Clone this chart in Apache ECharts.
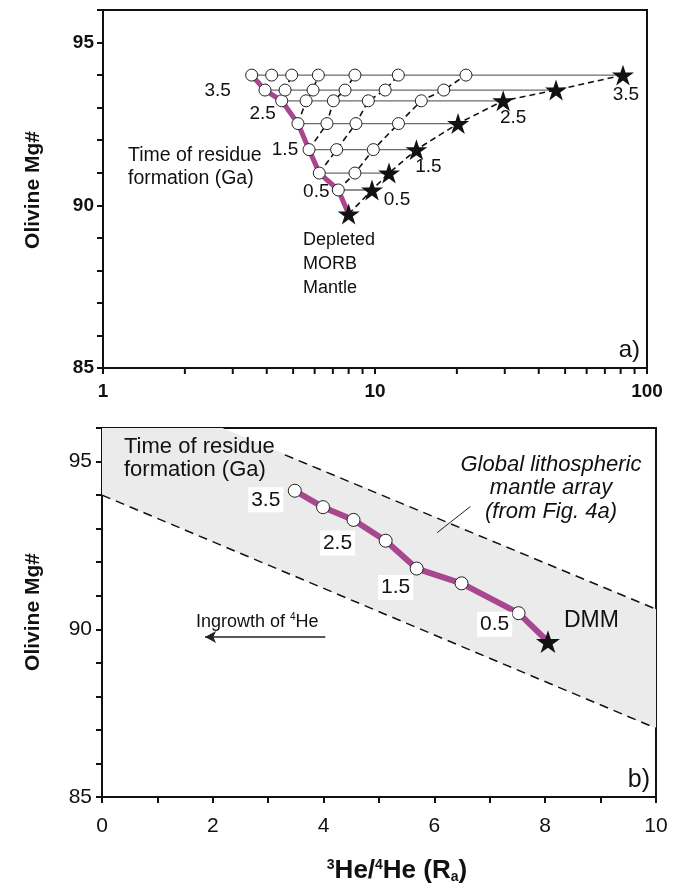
<!DOCTYPE html>
<html>
<head>
<meta charset="utf-8">
<script src="https://cdn.jsdelivr.net/npm/echarts@6/dist/echarts.min.js"></script>
<style>
  html, body { margin: 0; padding: 0; background: #fff; }
  #chart { width: 688px; height: 888px; }
</style>
</head>
<body>
<div id="chart"></div>
<script>
// ---- panel a: residues of different age, 3He/4He (log) vs Mg# ----
const agesGa = [0.5, 1.0, 1.5, 2.0, 2.5, 3.0, 3.5];
const rowMgA = [90.47, 90.99, 91.71, 92.51, 93.21, 93.54, 94.0];
// circles in each row, left -> right (Ra)
const rowCirclesA = [
  [7.33],
  [6.24, 8.44],
  [5.72, 7.23, 9.86],
  [5.21, 6.66, 8.51, 12.2],
  [4.54, 5.58, 7.03, 9.45, 14.8],
  [3.94, 4.67, 5.92, 7.76, 10.9, 17.9],
  [3.52, 4.17, 4.94, 6.19, 8.44, 12.18, 21.6]
];
const rowStarsA = [9.75, 11.26, 14.2, 20.2, 29.6, 46.3, 81.6];
const dmmA = [8.0, 89.73];
const logMinorTicks = [2, 3, 4, 5, 6, 7, 8, 9, 20, 30, 40, 50, 60, 70, 80, 90];

// ---- panel b: linear 3He/4He vs Mg# ----
const agesB = [3.5, 3.0, 2.5, 2.0, 1.5, 1.0, 0.5];
const heB = [3.48, 3.99, 4.54, 5.12, 5.68, 6.49, 7.52];
const mgB = [94.13, 93.64, 93.26, 92.64, 91.81, 91.37, 90.48];
const dmmB = [8.05, 89.63];
const arrayUpper = [[0, 97.5], [10, 90.6]];
const arrayLower = [[0, 94.0], [10, 87.05]];
const upperDashed = [[3.3, 95.2], [10, 90.6]];
const leader = [[6.05, 92.88], [6.65, 93.66]];
const ingrowthArrow = [[4.03, 89.77], [1.86, 89.77]];

const labelledAges = [0.5, 1.5, 2.5, 3.5];

const FONT = "'Liberation Sans', Arial, sans-serif";
const PURPLE = '#a8468f';
const STAR = 'path://M0,-100 L22.45,-30.9 L95.1,-30.9 L36.3,11.8 L58.8,80.9 L0,38.2 L-58.8,80.9 L-36.3,11.8 L-95.1,-30.9 L-22.45,-30.9 Z';

// label offsets (px), keyed by age
const offCircleA = { 0.5: [-22, 2], 1.5: [-24, 0], 2.5: [-19, 13], 3.5: [-34, 16] };
const offStarA = { 0.5: [25, 10], 1.5: [12, 17], 2.5: [10, 17], 3.5: [3, 20] };
const offB = { 0.5: [-24, 11], 1.5: [-21, 19], 2.5: [-16, 23], 3.5: [-29, 9] };

const chart = echarts.init(document.getElementById('chart'), null, { renderer: 'canvas' });

const series = [];

// horizontal gray lines (panel a)
agesGa.forEach((age, i) => {
  series.push({
    type: 'line', xAxisIndex: 0, yAxisIndex: 0, symbol: 'none', silent: true, z: 2,
    lineStyle: { color: '#6b6b6b', width: 1.3 },
    data: [[rowCirclesA[i][0], rowMgA[i]], [rowStarsA[i], rowMgA[i]]]
  });
});

// dashed isochrons: k = 0 -> stars from DMM, k >= 1 -> k-th circle from the right
for (let k = 0; k < 7; k++) {
  const pts = [];
  if (k === 0) {
    pts.push(dmmA);
    agesGa.forEach((a, i) => pts.push([rowStarsA[i], rowMgA[i]]));
  } else {
    for (let r = k - 1; r < agesGa.length; r++) {
      const row = rowCirclesA[r];
      pts.push([row[row.length - k], rowMgA[r]]);
    }
  }
  if (pts.length < 2) continue;
  series.push({
    type: 'line', xAxisIndex: 0, yAxisIndex: 0, symbol: 'none', silent: true, z: 3,
    lineStyle: { color: '#111', width: 1.6, type: [6, 4] },
    data: pts
  });
}

// purple residue path (panel a)
series.push({
  type: 'line', xAxisIndex: 0, yAxisIndex: 0, symbol: 'none', z: 4,
  lineStyle: { color: PURPLE, width: 5 },
  data: [dmmA].concat(agesGa.map((a, i) => [rowCirclesA[i][0], rowMgA[i]]))
});

// circles (panel a)
const circA = [];
rowCirclesA.forEach((row, i) => row.forEach(v => circA.push([v, rowMgA[i]])));
series.push({
  type: 'scatter', xAxisIndex: 0, yAxisIndex: 0, z: 6, symbol: 'circle', symbolSize: 12,
  itemStyle: { color: '#fff', borderColor: '#222', borderWidth: 1, opacity: 1 },
  data: circA
});

// stars (panel a)
series.push({
  type: 'scatter', xAxisIndex: 0, yAxisIndex: 0, z: 6, symbol: STAR, symbolSize: 22, symbolKeepAspect: true,
  itemStyle: { color: '#111', opacity: 1 },
  data: agesGa.map((a, i) => [rowStarsA[i], rowMgA[i]]).concat([dmmA])
});

// age labels (panel a)
const ageLabelStyle = { show: true, position: 'inside', fontSize: 19, color: '#111', fontFamily: FONT, formatter: p => p.data.age.toFixed(1) };
series.push({
  type: 'scatter', xAxisIndex: 0, yAxisIndex: 0, z: 7, symbolSize: 0, silent: true,
  itemStyle: { opacity: 1 },
  label: ageLabelStyle,
  data: agesGa.map((a, i) => ({ value: [rowCirclesA[i][0], rowMgA[i]], age: a }))
    .filter(d => labelledAges.includes(d.age))
    .map(d => Object.assign(d, { label: { offset: offCircleA[d.age] } }))
    .concat(agesGa.map((a, i) => ({ value: [rowStarsA[i], rowMgA[i]], age: a }))
      .filter(d => labelledAges.includes(d.age))
      .map(d => Object.assign(d, { label: { offset: offStarA[d.age] } })))
});

// log minor ticks (panel a)
series.push({
  type: 'custom', xAxisIndex: 0, yAxisIndex: 0, silent: true, clip: false, z: 8,
  data: logMinorTicks.map(v => [v, 85]),
  renderItem: (params, api) => {
    const p = api.coord([api.value(0), api.value(1)]);
    return { type: 'line', shape: { x1: p[0], y1: p[1], x2: p[0], y2: p[1] + 6 }, style: { stroke: '#111', lineWidth: 2 } };
  }
});

// ---- panel b ----
series.push({
  type: 'custom', xAxisIndex: 1, yAxisIndex: 1, silent: true, clip: true, z: 1,
  data: [0],
  renderItem: (params, api) => {
    const pts = [arrayUpper[0], arrayUpper[1], arrayLower[1], arrayLower[0]].map(p => api.coord(p));
    return { type: 'polygon', shape: { points: pts }, style: { fill: '#ebebeb' } };
  }
});
[upperDashed, arrayLower].forEach(d => series.push({
  type: 'line', xAxisIndex: 1, yAxisIndex: 1, symbol: 'none', silent: true, z: 2,
  lineStyle: { color: '#111', width: 1.5, type: [9, 6] }, data: d
}));
series.push({
  type: 'line', xAxisIndex: 1, yAxisIndex: 1, symbol: 'none', silent: true, z: 2,
  lineStyle: { color: '#222', width: 1 }, data: leader
});
series.push({
  type: 'line', xAxisIndex: 1, yAxisIndex: 1, symbol: 'none', silent: true, z: 2,
  lineStyle: { opacity: 0 }, data: ingrowthArrow,
  markLine: {
    silent: true, symbol: ['none', 'arrow'], symbolSize: [9, 11],
    label: { show: false },
    lineStyle: { color: '#222', width: 1.5, type: 'solid' },
    data: [[{ coord: ingrowthArrow[0] }, { coord: ingrowthArrow[1] }]]
  }
});
series.push({
  type: 'line', xAxisIndex: 1, yAxisIndex: 1, z: 4, symbol: 'circle', symbolSize: 13,
  lineStyle: { color: PURPLE, width: 6 },
  itemStyle: { color: '#fff', borderColor: '#222', borderWidth: 1 },
  label: {
    show: true, position: 'inside', fontSize: 21, color: '#111', fontFamily: FONT,
    backgroundColor: '#fff', padding: [2, 3],
    formatter: p => (p.data.age != null && labelledAges.includes(p.data.age)) ? p.data.age.toFixed(1) : ''
  },
  data: agesB.map((a, i) => ({
    value: [heB[i], mgB[i]], age: a,
    label: labelledAges.includes(a) ? { offset: offB[a] } : { show: false }
  })).concat([{ value: dmmB, symbol: 'none', label: { show: false } }])
});
series.push({
  type: 'scatter', xAxisIndex: 1, yAxisIndex: 1, z: 6, symbol: STAR, symbolSize: 24, symbolKeepAspect: true,
  itemStyle: { color: '#111', opacity: 1 }, data: [dmmB]
});

const axisLine = { show: true, onZero: false, lineStyle: { color: '#111', width: 2 } };
const axisTick = { show: true, inside: false, length: 6, lineStyle: { color: '#111', width: 2 } };

const txt = (x, y, text, extra, rotation) => ({
  type: 'text', x, y, rotation: rotation || 0, silent: true, z: 100,
  style: Object.assign({ text, fontFamily: FONT, fontSize: 18, fill: '#111', align: 'left', verticalAlign: 'middle', lineHeight: 23 }, extra || {})
});

chart.setOption({
  animation: false,
  backgroundColor: '#fff',
  grid: [
    { left: 103, top: 10, width: 544, height: 358, show: true, borderColor: '#111', borderWidth: 2, backgroundColor: 'transparent' },
    { left: 102, top: 428, width: 554, height: 369, show: true, borderColor: '#111', borderWidth: 2, backgroundColor: 'transparent' }
  ],
  xAxis: [
    {
      gridIndex: 0, type: 'log', logBase: 10, min: 1, max: 100,
      axisLine, axisTick, splitLine: { show: false },
      axisLabel: { fontFamily: FONT, fontWeight: 'bold', fontSize: 19, color: '#111', margin: 14 }
    },
    {
      gridIndex: 1, type: 'value', min: 0, max: 10, interval: 1,
      axisLine, axisTick, splitLine: { show: false },
      axisLabel: { fontFamily: FONT, fontSize: 21, color: '#111', margin: 19, formatter: v => (v % 2 === 0 ? String(v) : '') }
    }
  ],
  yAxis: [
    {
      gridIndex: 0, type: 'value', min: 85, max: 96, interval: 1,
      axisLine, axisTick, splitLine: { show: false },
      axisLabel: { fontFamily: FONT, fontWeight: 'bold', fontSize: 19, color: '#111', margin: 9, formatter: v => (v % 5 === 0 ? String(v) : '') }
    },
    {
      gridIndex: 1, type: 'value', min: 85, max: 96, interval: 1,
      axisLine, axisTick, splitLine: { show: false },
      axisLabel: { fontFamily: FONT, fontSize: 21, color: '#111', margin: 10, formatter: v => (v % 5 === 0 ? String(v) : '') }
    }
  ],
  graphic: [
    txt(33, 190, 'Olivine Mg#', { fontSize: 21, fontWeight: 'bold', align: 'center' }, Math.PI / 2),
    txt(33, 612, 'Olivine Mg#', { fontSize: 21, fontWeight: 'bold', align: 'center' }, Math.PI / 2),
    txt(128, 167, 'Time of residue\nformation (Ga)', { fontSize: 19.5 }),
    txt(303, 264, 'Depleted\nMORB\nMantle', { fontSize: 18, lineHeight: 24 }),
    txt(640, 350, 'a)', { fontSize: 24, align: 'right' }),
    txt(124, 458, 'Time of residue\nformation (Ga)', { fontSize: 22 }),
    txt(551, 488, 'Global lithospheric\nmantle array\n(from Fig. 4a)', { fontSize: 22, fontStyle: 'italic', align: 'center', lineHeight: 23.5 }),
    txt(564, 621, 'DMM', { fontSize: 23 }),
    {
      type: 'text', x: 196, y: 622, silent: true, z: 100,
      style: {
        text: 'Ingrowth of {sup|4}He', fontFamily: FONT, fontSize: 18, fill: '#111', verticalAlign: 'middle',
        rich: { sup: { fontSize: 10, verticalAlign: 'top', padding: [0, 0, 9, 0], fontFamily: FONT, fill: '#111' } }
      }
    },
    txt(650, 780, 'b)', { fontSize: 25, align: 'right' }),
    {
      type: 'text', x: 397, y: 871, silent: true, z: 100,
      style: {
        text: '{sup|3}{t|He/}{sup|4}{t|He (R}{sub|a}{t|)}', align: 'center', verticalAlign: 'middle',
        rich: {
          t: { fontFamily: FONT, fontWeight: 'bold', fontSize: 26, fill: '#111' },
          sup: { fontFamily: FONT, fontWeight: 'bold', fontSize: 14, fill: '#111', padding: [0, 0, 12, 0] },
          sub: { fontFamily: FONT, fontWeight: 'bold', fontSize: 14, fill: '#111', padding: [12, 0, 0, 0] }
        }
      }
    }
  ],
  series
});
</script>
</body>
</html>
